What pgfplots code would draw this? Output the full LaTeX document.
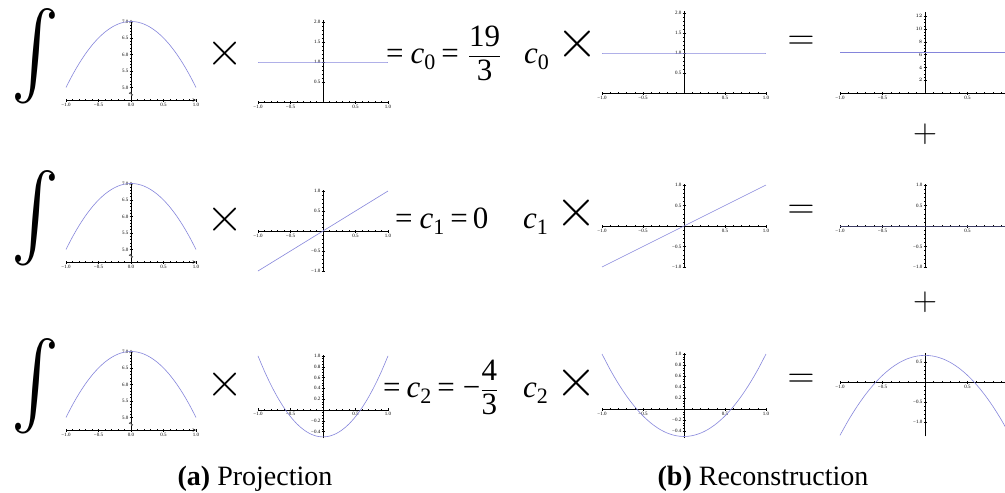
\documentclass[border=0pt]{standalone}
\usepackage{pgfplots}
\pgfplotsset{compat=1.18}
\usepackage{pgfplotstable}
\usepackage{graphicx}
\usepackage{amsmath}
\usepackage{fontspec}
\setmainfont{Liberation Serif}

\definecolor{curve}{rgb}{0.52,0.52,0.86}

% sampled functions on [-1,1]: integrand f, basis b0..b2, scaled basis r0..r2
\pgfplotstableread{
x     f     b0  b1    b2      r0      r1  r2
-1.0  5.00  1   -1.0  1.000   6.3333  0   -1.3333
-0.9  5.38  1   -0.9  0.715   6.3333  0   -0.9533
-0.8  5.72  1   -0.8  0.460   6.3333  0   -0.6133
-0.7  6.02  1   -0.7  0.235   6.3333  0   -0.3133
-0.6  6.28  1   -0.6  0.040   6.3333  0   -0.0533
-0.5  6.50  1   -0.5  -0.125  6.3333  0   0.1667
-0.4  6.68  1   -0.4  -0.260  6.3333  0   0.3467
-0.3  6.82  1   -0.3  -0.365  6.3333  0   0.4867
-0.2  6.92  1   -0.2  -0.440  6.3333  0   0.5867
-0.1  6.98  1   -0.1  -0.485  6.3333  0   0.6467
0.0   7.00  1   0.0   -0.500  6.3333  0   0.6667
0.1   6.98  1   0.1   -0.485  6.3333  0   0.6467
0.2   6.92  1   0.2   -0.440  6.3333  0   0.5867
0.3   6.82  1   0.3   -0.365  6.3333  0   0.4867
0.4   6.68  1   0.4   -0.260  6.3333  0   0.3467
0.5   6.50  1   0.5   -0.125  6.3333  0   0.1667
0.6   6.28  1   0.6   0.040   6.3333  0   -0.0533
0.7   6.02  1   0.7   0.235   6.3333  0   -0.3133
0.8   5.72  1   0.8   0.460   6.3333  0   -0.6133
0.9   5.38  1   0.9   0.715   6.3333  0   -0.9533
1.0   5.00  1   1.0   1.000   6.3333  0   -1.3333
}\funcs

\pgfplotsset{
  mma/.style={
    scale only axis, anchor=south west, clip=false,
    axis lines=middle,
    axis line style={-, black, line width=0.5pt},
    inner axis line style={-},
    tick style={black, line width=0.35pt},
    major tick length=3pt, minor tick length=1.6pt,
    ticklabel style={font=\fontsize{5}{5}\selectfont, inner sep=1pt},
    xmin=-1, xmax=1,
    xtick={-1,-0.5,0,0.5,1}, xticklabels={−1.0,−0.5,,0.5,1.0},
    minor x tick num=4,
  },
  integrand/.style={mma, width=130pt, height=80.2pt,
    ymin=4.62, ymax=7.05, axis x line=bottom, axis y line=middle,
    xticklabels={−1.0,−0.5,0.0,0.5,1.0},
    ytick={5,5.5,6,6.5,7}, yticklabels={5.0,5.5,6.0,6.5,7.0},
    minor y tick num=4},
  yzero2/.style={ymin=0, ymax=2.05, ytick={0.5,1,1.5,2},
    yticklabels={0.5,1.0,1.5,2.0}, minor y tick num=4},
  ypm1/.style={ymin=-1.02, ymax=1.02, ytick={-1,-0.5,0,0.5,1},
    yticklabels={−1.0,−0.5,,0.5,1.0}, minor y tick num=4},
  yleg/.style={ymin=-0.52, ymax=1.02, ytick={-0.4,-0.2,0,0.2,0.4,0.6,0.8,1},
    yticklabels={−0.4,−0.2,,0.2,0.4,0.6,0.8,1.0}, minor y tick num=3},
  fcurve/.style={line width=0.6pt, color=curve, smooth},
}

\newcommand\eqfont{\fontsize{31}{36}\selectfont}
\newcommand\sub[1]{\raisebox{-0.22em}{\fontsize{22}{22}\selectfont #1}}
\newcommand\fr[2]{$\genfrac{}{}{0.8pt}{0}{\hbox{#1}}{\hbox{#2}}$}
\newcommand\bigint{\scalebox{7.2}[8.6]{$\int$}}
\newcommand\opx[1]{\scalebox{#1}{\fontsize{20}{20}\selectfont$\times$}}
\newcommand\opeq{\scalebox{1.8}{\fontsize{20}{20}\selectfont$=$}}
\newcommand\opplus{\scalebox{1.6}{\fontsize{20}{20}\selectfont$+$}}
% small zigzag marking the broken vertical axis
\newcommand\axisbreak{\draw[black, line width=0.4pt, fill=white]
  (axis cs:0,4.74) -- ++(1.8pt,1.2pt) -- ++(-3.6pt,1.6pt) -- ++(1.8pt,1.2pt);}

\begin{document}
\begin{tikzpicture}
\useasboundingbox (0pt,0pt) rectangle (1005pt,-493pt);

% ---------- (a) projection ----------
\foreach \dy in {0,162,330} {
  \node[inner sep=0] at (35pt,{-56.5pt-\dy pt}) {\bigint};
}
\begin{axis}[integrand, at={(66pt,-100pt)}]
  \addplot[fcurve] table[x=x,y=f]{\funcs};
  \axisbreak
\end{axis}
\begin{axis}[integrand, at={(66pt,-262pt)}]
  \addplot[fcurve] table[x=x,y=f]{\funcs};
  \axisbreak
\end{axis}
\begin{axis}[integrand, at={(66pt,-430pt)}]
  \addplot[fcurve] table[x=x,y=f]{\funcs};
  \axisbreak
\end{axis}

\node at (225pt,-54pt) {\opx{2.3}};
\node at (225pt,-220pt) {\opx{2.3}};
\node at (225pt,-385pt) {\opx{2.3}};

\begin{axis}[mma, yzero2, at={(258pt,-102pt)}, width=130pt, height=82pt]
  \addplot[fcurve] table[x=x,y=b0]{\funcs};
\end{axis}
\begin{axis}[mma, ypm1, at={(258pt,-271.8pt)}, width=130pt, height=81.6pt]
  \addplot[fcurve] table[x=x,y=b1]{\funcs};
\end{axis}
\begin{axis}[mma, yleg, at={(258pt,-438pt)}, width=130pt, height=83.2pt]
  \addplot[fcurve] table[x=x,y=b2]{\funcs};
\end{axis}

\node[anchor=base west, inner sep=0] at (386pt,-63pt)
  {\eqfont =\hspace{7pt}\textit{c}\sub{0}\hspace{6pt}=\hspace{9pt}\fr{19}{3}};
\node[anchor=base west, inner sep=0] at (395pt,-228pt)
  {\eqfont =\hspace{7pt}\textit{c}\sub{1}\hspace{6pt}=\hspace{5pt}0};
\node[anchor=base west, inner sep=0] at (383pt,-397pt)
  {\eqfont =\hspace{6pt}\textit{c}\sub{2}\hspace{6pt}=\hspace{8pt}−\fr{4}{3}};

\node[anchor=base] at (255pt,-485pt) {\fontsize{28}{32}\selectfont\textbf{(a)} Projection};

% ---------- (b) reconstruction ----------
\node[anchor=base west, inner sep=0] at (524pt,-63pt) {\eqfont\textit{c}\sub{0}};
\node[anchor=base west, inner sep=0] at (523pt,-228pt) {\eqfont\textit{c}\sub{1}};
\node[anchor=base west, inner sep=0] at (523pt,-397pt) {\eqfont\textit{c}\sub{2}};

\node at (577pt,-44pt) {\opx{2.6}};
\node at (576pt,-213pt) {\opx{2.6}};
\node at (576pt,-383pt) {\opx{2.6}};

\begin{axis}[mma, yzero2, at={(602pt,-93pt)}, width=164pt, height=82pt]
  \addplot[fcurve] table[x=x,y=b0]{\funcs};
\end{axis}
\begin{axis}[mma, ypm1, at={(602pt,-267.8pt)}, width=164pt, height=83.6pt]
  \addplot[fcurve] table[x=x,y=b1]{\funcs};
\end{axis}
\begin{axis}[mma, yleg, at={(602pt,-437.6pt)}, width=164pt, height=84.7pt]
  \addplot[fcurve] table[x=x,y=b2]{\funcs};
\end{axis}

\node at (801pt,-43pt) {\opeq};
\node at (801pt,-212pt) {\opeq};
\node at (801pt,-381pt) {\opeq};

\begin{axis}[mma, at={(840pt,-93pt)}, width=170pt, height=81.3pt,
  ymin=0, ymax=12.7, ytick={2,4,6,8,10,12}, minor y tick num=3]
  \addplot[fcurve] table[x=x,y=r0]{\funcs};
\end{axis}
\begin{axis}[mma, ypm1, at={(840pt,-267.8pt)}, width=170pt, height=83.6pt]
  \addplot[fcurve, line width=1pt, opacity=0.7] table[x=x,y=r1]{\funcs};
\end{axis}
\begin{axis}[mma, at={(840pt,-436.4pt)}, width=170pt, height=83.2pt,
  ymin=-1.36, ymax=0.72, ytick={-1,-0.5,0,0.5},
  yticklabels={−1.0,−0.5,,0.5}, minor y tick num=4]
  \addplot[fcurve] table[x=x,y=r2]{\funcs};
\end{axis}

\node at (925pt,-134pt) {\opplus};
\node at (925pt,-302pt) {\opplus};

\node[anchor=base] at (763pt,-485pt) {\fontsize{28}{32}\selectfont\textbf{(b)} Reconstruction};
\end{tikzpicture}
\end{document}
